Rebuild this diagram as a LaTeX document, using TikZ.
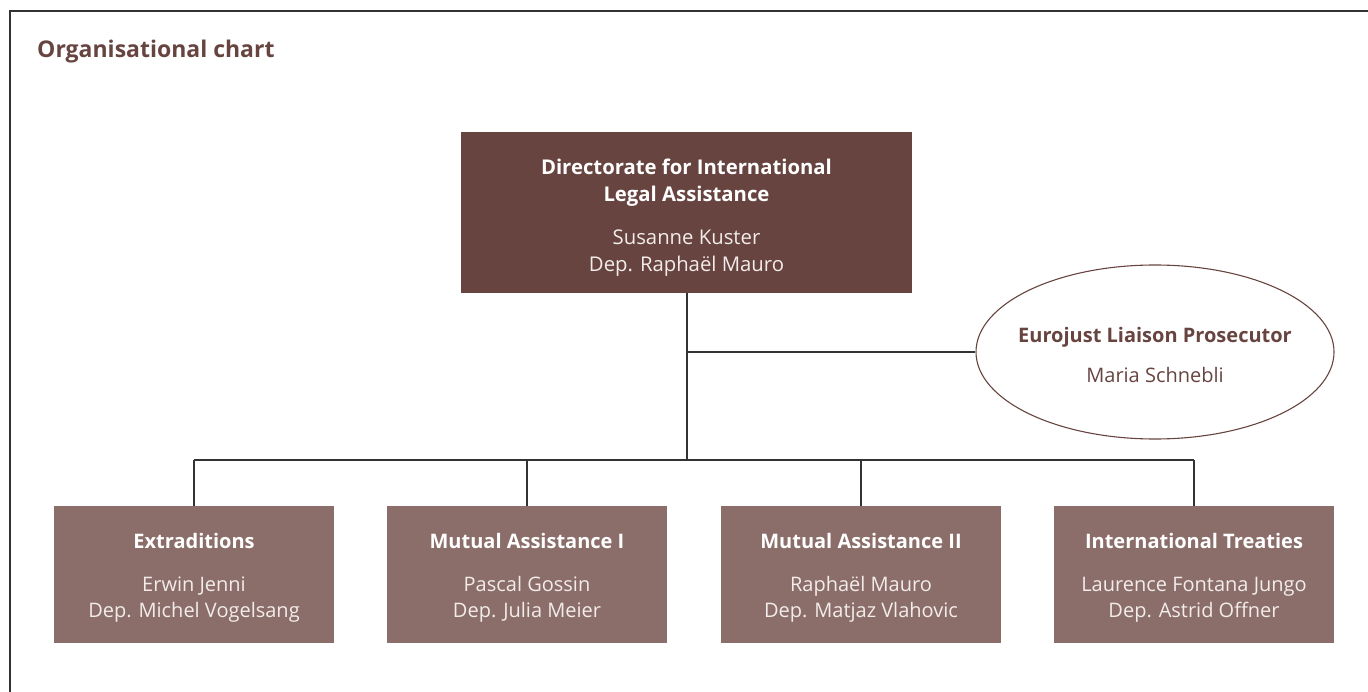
\documentclass[tikz,border=0pt]{standalone}
\usepackage{fontspec}
\setmainfont{Open Sans}
\usetikzlibrary{shapes.geometric}
\definecolor{darkbrown}{HTML}{674440}
\definecolor{lightbrown}{HTML}{8B6E69}
\definecolor{linegray}{HTML}{333333}
\definecolor{nametext}{HTML}{F2ECEA}
\tikzset{
  topbox/.style={fill=darkbrown, draw=none, minimum width=451pt, minimum height=161pt, inner sep=0pt, text=white, align=center, font=\fontsize{20.3}{26.5}\selectfont},
  unitbox/.style={fill=lightbrown, draw=none, minimum width=280pt, minimum height=137pt, inner sep=0pt, text=white, align=center, font=\fontsize{20}{26}\selectfont},
  liaison/.style={ellipse, draw=darkbrown, line width=1.1pt, minimum width=358pt, minimum height=174pt, inner xsep=-14pt, inner ysep=0pt, text=darkbrown, align=center, font=\fontsize{20}{26}\selectfont},
  conn/.style={draw=linegray, line width=1.2pt},
  framelines/.style={draw=linegray, line width=1.3pt},
  titletext/.style={text=darkbrown, anchor=base west, inner sep=0pt, font=\fontsize{23}{28}\selectfont\bfseries}
}
\newcommand{\nm}[1]{{\color{nametext}#1}}
\begin{document}
\begin{tikzpicture}[x=1pt,y=-1pt]
\useasboundingbox (0,0) rectangle (1368,692);
\coordinate (fbl) at (10,692);
\coordinate (ftl) at (10,11);
\coordinate (ftr) at (1368,11);
\draw[framelines] (fbl) -- (ftl) -- (ftr);
\node[titletext] (title) at (37,58) {Organisational chart};

\node[topbox] (dir) at (686.5,212.5) {\rule{0pt}{26pt}\textbf{Directorate for International}\\\textbf{Legal Assistance}\\[17pt]\nm{Susanne Kuster}\\\nm{Dep. Raphaël Mauro}};

\node[liaison] (euro) at (1155,352) {\rule{0pt}{22pt}\textbf{Eurojust Liaison Prosecutor}\\[14pt]Maria Schnebli};

\node[unitbox] (ext) at (194,574.5) {\rule{0pt}{22pt}\textbf{Extraditions}\\[17pt]\nm{Erwin Jenni}\\\nm{Dep. Michel Vogelsang}};
\node[unitbox] (ma1) at (527,574.5) {\rule{0pt}{22pt}\textbf{Mutual Assistance I}\\[17pt]\nm{Pascal Gossin}\\\nm{Dep. Julia Meier}};
\node[unitbox] (ma2) at (861,574.5) {\rule{0pt}{22pt}\textbf{Mutual Assistance II}\\[17pt]\nm{Raphaël Mauro}\\\nm{Dep. Matjaz Vlahovic}};
\node[unitbox] (itr) at (1194,574.5) {\rule{0pt}{22pt}\textbf{International Treaties}\\[17pt]\nm{Laurence Fontana Jungo}\\\nm{Dep. Astrid Offner}};

\coordinate (bus) at (687,460);
\coordinate (busl) at (194,460);
\coordinate (busr) at (1194,460);
\draw[conn] (dir.south -| bus) -- (bus);
\draw[conn] (bus |- euro.west) -- (euro.west);
\draw[conn] (busl) -- (busr);
\draw[conn] (busl) -- (ext.north);
\draw[conn] (ma1.north |- bus) -- (ma1.north);
\draw[conn] (ma2.north |- bus) -- (ma2.north);
\draw[conn] (busr) -- (itr.north);
\end{tikzpicture}
\end{document}
